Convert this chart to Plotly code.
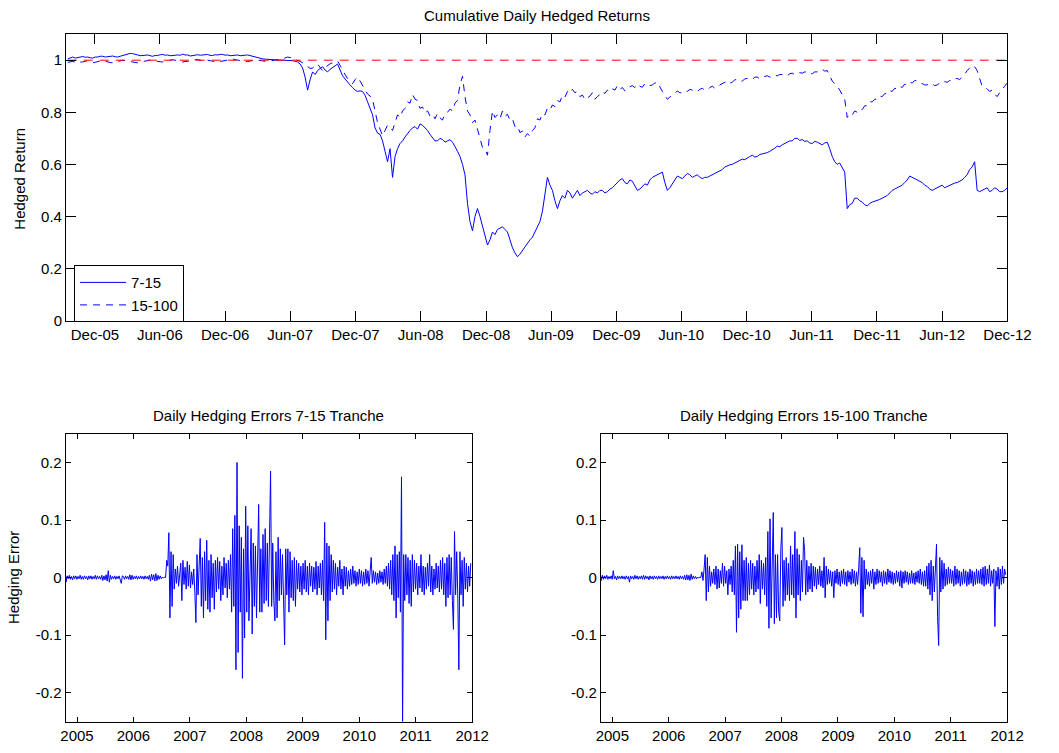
import pandas as pd
import plotly.graph_objects as go

# ---------------- cumulative hedged returns (weekly closes) ----------------
ret_start = "2005-09-16"
ret_7_15 = [
    1.005, 1.010, 1.012, 1.008, 1.010, 1.013, 1.014, 1.011, 1.012, 1.009,
    1.008, 1.012, 1.012, 1.015, 1.015, 1.012, 1.013, 1.016, 1.016, 1.013,
    1.012, 1.015, 1.018, 1.020, 1.022, 1.026, 1.025, 1.021, 1.020, 1.017,
    1.018, 1.020, 1.020, 1.017, 1.015, 1.018, 1.018, 1.021, 1.022, 1.019,
    1.020, 1.017, 1.018, 1.021, 1.020, 1.019, 1.023, 1.020, 1.020, 1.016,
    1.018, 1.021, 1.021, 1.019, 1.020, 1.022, 1.022, 1.018, 1.018, 1.021,
    1.020, 1.022, 1.022, 1.019, 1.020, 1.017, 1.018, 1.021, 1.020, 1.017,
    1.017, 1.019, 1.020, 1.017, 1.015, 1.012, 1.010, 1.007, 1.005, 1.004,
    1.003, 1.002, 1.002, 1.001, 1.001, 1.000, 1.000, 1.000, 1.000, 0.999,
    0.998, 0.996, 0.993, 0.985, 0.970, 0.935, 0.885, 0.925, 0.955, 0.945,
    0.960, 0.968, 0.975, 0.962, 0.955, 0.965, 0.970, 0.978, 0.985, 0.962,
    0.940, 0.928, 0.915, 0.905, 0.895, 0.885, 0.880, 0.882, 0.880, 0.865,
    0.840, 0.815, 0.790, 0.740, 0.720, 0.715, 0.690, 0.650, 0.610, 0.660,
    0.550, 0.630, 0.660, 0.680, 0.690, 0.705, 0.720, 0.730, 0.740, 0.745,
    0.735, 0.755, 0.750, 0.740, 0.730, 0.715, 0.700, 0.690, 0.690, 0.700,
    0.695, 0.685, 0.690, 0.695, 0.685, 0.670, 0.650, 0.630, 0.600, 0.560,
    0.450, 0.380, 0.345, 0.400, 0.430, 0.400, 0.360, 0.320, 0.290, 0.310,
    0.340, 0.330, 0.350, 0.355, 0.360, 0.350, 0.340, 0.310, 0.280, 0.260,
    0.245, 0.255, 0.270, 0.285, 0.300, 0.310, 0.320, 0.340, 0.360, 0.380,
    0.420, 0.480, 0.550, 0.520, 0.500, 0.460, 0.430, 0.460, 0.480, 0.470,
    0.500, 0.490, 0.470, 0.485, 0.500, 0.480, 0.490, 0.495, 0.500, 0.490,
    0.485, 0.495, 0.490, 0.500, 0.500, 0.490, 0.495, 0.505, 0.510, 0.520,
    0.530, 0.540, 0.545, 0.530, 0.525, 0.540, 0.535, 0.515, 0.500, 0.505,
    0.515, 0.525, 0.520, 0.540, 0.550, 0.555, 0.560, 0.565, 0.570, 0.530,
    0.500, 0.510, 0.525, 0.545, 0.555, 0.550, 0.545, 0.555, 0.565, 0.560,
    0.550, 0.555, 0.560, 0.550, 0.545, 0.550, 0.550, 0.555, 0.560, 0.565,
    0.570, 0.575, 0.580, 0.590, 0.595, 0.598, 0.600, 0.605, 0.610, 0.615,
    0.620, 0.618, 0.625, 0.630, 0.635, 0.628, 0.630, 0.638, 0.640, 0.642,
    0.645, 0.650, 0.655, 0.662, 0.670, 0.668, 0.675, 0.680, 0.685, 0.690,
    0.690, 0.700, 0.700, 0.692, 0.695, 0.688, 0.690, 0.682, 0.680, 0.688,
    0.685, 0.680, 0.675, 0.682, 0.685, 0.660, 0.630, 0.610, 0.600, 0.605,
    0.590, 0.570, 0.430, 0.445, 0.450, 0.470, 0.470, 0.460, 0.455, 0.445,
    0.440, 0.450, 0.455, 0.458, 0.460, 0.465, 0.470, 0.475, 0.480, 0.490,
    0.500, 0.505, 0.510, 0.515, 0.520, 0.530, 0.540, 0.555, 0.550, 0.545,
    0.540, 0.535, 0.530, 0.520, 0.515, 0.505, 0.500, 0.505, 0.510, 0.515,
    0.520, 0.510, 0.515, 0.520, 0.525, 0.528, 0.530, 0.535, 0.540, 0.550,
    0.560, 0.580, 0.590, 0.610, 0.500, 0.495, 0.500, 0.505, 0.510, 0.495,
    0.500, 0.510, 0.505, 0.495, 0.495, 0.500, 0.510,
]
ret_15_100 = [
    0.992, 0.994, 0.995, 0.992, 0.990, 0.993, 0.993, 0.996, 0.997, 0.993,
    0.990, 0.992, 0.995, 0.997, 0.998, 0.995, 0.993, 0.991, 0.990, 0.993,
    0.995, 0.998, 1.000, 0.998, 0.997, 0.995, 0.993, 0.991, 0.990, 0.993,
    0.995, 0.997, 0.998, 1.000, 1.000, 0.997, 0.995, 0.994, 0.993, 0.996,
    0.997, 1.000, 1.002, 1.000, 0.998, 0.995, 0.993, 0.995, 0.995, 0.998,
    1.000, 1.002, 1.003, 1.000, 0.998, 0.999, 1.000, 0.998, 0.996, 0.994,
    0.993, 0.995, 0.997, 0.999, 1.000, 1.002, 1.004, 1.002, 1.000, 0.998,
    0.997, 0.995, 0.995, 0.997, 0.998, 1.000, 1.000, 0.998, 0.997, 0.996,
    0.996, 0.997, 0.998, 1.000, 1.000, 1.003, 1.005, 1.010, 1.012, 1.010,
    1.008, 1.003, 1.000, 0.995, 0.990, 0.982, 0.975, 0.968, 0.970, 0.978,
    0.985, 0.972, 0.960, 0.972, 0.980, 0.986, 0.990, 0.995, 0.997, 0.980,
    0.960, 0.945, 0.930, 0.920, 0.910, 0.925, 0.935, 0.920, 0.900, 0.885,
    0.870, 0.862, 0.850, 0.800, 0.760, 0.735, 0.710, 0.730, 0.750, 0.740,
    0.730, 0.760, 0.790, 0.780, 0.805, 0.815, 0.840, 0.835, 0.868, 0.850,
    0.845, 0.815, 0.820, 0.798, 0.805, 0.785, 0.792, 0.775, 0.795, 0.778,
    0.770, 0.795, 0.800, 0.812, 0.805, 0.835, 0.845, 0.905, 0.938, 0.860,
    0.805, 0.790, 0.760, 0.770, 0.735, 0.705, 0.665, 0.660, 0.635, 0.730,
    0.805, 0.780, 0.790, 0.775, 0.805, 0.785, 0.792, 0.770, 0.775, 0.745,
    0.748, 0.722, 0.728, 0.705, 0.718, 0.708, 0.730, 0.740, 0.775, 0.770,
    0.795, 0.790, 0.815, 0.808, 0.828, 0.822, 0.845, 0.840, 0.865, 0.858,
    0.880, 0.872, 0.888, 0.875, 0.880, 0.860, 0.866, 0.848, 0.855, 0.862,
    0.875, 0.850, 0.860, 0.868, 0.880, 0.872, 0.885, 0.878, 0.890, 0.885,
    0.902, 0.888, 0.895, 0.882, 0.890, 0.898, 0.902, 0.895, 0.908, 0.900,
    0.896, 0.910, 0.910, 0.902, 0.905, 0.912, 0.915, 0.895, 0.880, 0.865,
    0.850, 0.858, 0.868, 0.872, 0.882, 0.875, 0.875, 0.882, 0.880, 0.888,
    0.885, 0.878, 0.880, 0.888, 0.892, 0.885, 0.885, 0.895, 0.900, 0.892,
    0.895, 0.905, 0.910, 0.918, 0.920, 0.912, 0.915, 0.925, 0.925, 0.918,
    0.920, 0.928, 0.930, 0.925, 0.925, 0.935, 0.935, 0.928, 0.930, 0.938,
    0.940, 0.935, 0.935, 0.942, 0.940, 0.945, 0.945, 0.938, 0.940, 0.948,
    0.950, 0.945, 0.945, 0.952, 0.950, 0.955, 0.955, 0.948, 0.948, 0.955,
    0.955, 0.962, 0.965, 0.958, 0.960, 0.940, 0.920, 0.910, 0.900, 0.885,
    0.870, 0.850, 0.780, 0.795, 0.790, 0.805, 0.800, 0.812, 0.810, 0.825,
    0.825, 0.840, 0.840, 0.850, 0.850, 0.862, 0.860, 0.872, 0.870, 0.882,
    0.880, 0.892, 0.890, 0.900, 0.895, 0.908, 0.905, 0.915, 0.912, 0.922,
    0.920, 0.912, 0.910, 0.905, 0.905, 0.912, 0.910, 0.902, 0.905, 0.912,
    0.910, 0.918, 0.915, 0.922, 0.920, 0.928, 0.930, 0.925, 0.935, 0.945,
    0.960, 0.970, 0.980, 0.975, 0.960, 0.930, 0.900, 0.895, 0.890, 0.880,
    0.885, 0.870, 0.860, 0.875, 0.890, 0.900, 0.912,
]
par_level = 1.0

# ---------------- daily hedging errors (weekly) ----------------
err_calm_start = "2004-10-15"
err_busy_start = "2006-08-04"

err_7_15_calm = [
    0.004, -0.008, 0.003, -0.002, 0.004, -0.003, 0.002, -0.004, 0.003, -0.002,
    0.003, -0.003, 0.002, -0.002, 0.004, -0.003, 0.002, -0.003, 0.003, -0.002,
    0.002, -0.004, 0.003, -0.002, 0.003, -0.003, 0.002, -0.002, 0.004, -0.003,
    0.003, -0.002, 0.002, -0.003, 0.004, -0.005, 0.003, -0.004, 0.005, -0.006,
    0.012, -0.008, 0.004, -0.003, 0.002, -0.002, 0.003, -0.003, 0.002, -0.002,
    0.003, -0.004, -0.010, 0.003, 0.002, -0.003, 0.003, -0.002, 0.002, -0.003,
    0.005, -0.004, 0.004, -0.003, 0.002, -0.002, 0.003, -0.003, 0.002, -0.002,
    0.003, -0.002, 0.002, -0.003, 0.003, -0.002, 0.002, -0.003, 0.004, -0.006,
    0.006, -0.004, 0.005, -0.006, 0.007, -0.005, 0.004, -0.003, 0.003, -0.002,
    0.001, -0.001, 0.001, 0.000,
]
err_7_15_busy = [
    0.030, 0.020, 0.078, -0.070, 0.045, -0.050, 0.040, -0.020, 0.015, -0.010,
    0.020, -0.015, 0.012, 0.025, -0.040, 0.030, -0.012, 0.018, -0.020, 0.028,
    -0.015, 0.022, -0.018, 0.010, -0.012, 0.015, -0.025, -0.078, 0.040, -0.030,
    0.020, 0.068, -0.050, 0.035, -0.070, 0.045, -0.040, 0.065, -0.055, 0.030,
    -0.060, 0.040, -0.035, 0.025, -0.055, 0.030, -0.025, 0.035, -0.020, 0.028,
    -0.040, 0.020, -0.030, 0.035, -0.018, 0.025, -0.035, 0.030, -0.020, 0.040,
    -0.060, 0.085, -0.050, 0.108, -0.160, 0.200, -0.130, 0.090, -0.060, 0.070,
    -0.175, 0.050, -0.105, 0.124, -0.060, 0.090, -0.075, 0.040, 0.085, -0.098,
    0.060, -0.050, 0.055, -0.070, 0.045, 0.127, -0.060, 0.050, -0.060, 0.075,
    -0.045, 0.085, -0.040, 0.060, -0.050, 0.045, 0.185, -0.050, 0.060, -0.040,
    -0.075, 0.045, -0.070, 0.070, -0.040, 0.050, -0.030, 0.040, -0.050, -0.117,
    0.050, -0.030, 0.050, -0.060, 0.045, -0.035, 0.030, -0.040, 0.035, -0.050,
    0.030, -0.020, 0.025, -0.025, 0.020, -0.030, 0.025, -0.020, 0.030, -0.025,
    0.020, -0.030, 0.025, -0.015, 0.020, -0.025, 0.018, -0.020, 0.028, -0.030,
    0.020, -0.018, 0.025, -0.030, 0.030, -0.040, 0.096, -0.108, 0.060, -0.075,
    0.055, -0.040, 0.040, -0.025, 0.030, -0.020, 0.025, -0.030, 0.018, -0.015,
    0.030, -0.020, 0.015, -0.030, 0.020, -0.015, 0.018, -0.020, 0.012, -0.015,
    0.015, -0.012, 0.020, -0.010, 0.012, -0.015, 0.010, -0.012, 0.015, -0.010,
    0.012, -0.015, 0.010, -0.012, 0.015, -0.010, 0.012, -0.015, 0.010, 0.035,
    -0.010, 0.012, -0.008, 0.010, -0.012, 0.008, -0.010, 0.012, -0.008, 0.010,
    -0.012, 0.015, -0.010, 0.020, -0.015, 0.025, -0.020, 0.030, -0.030, 0.040,
    -0.040, 0.055, -0.070, 0.040, -0.035, 0.045, -0.060, 0.175, -0.255, 0.040,
    -0.040, 0.040, -0.030, 0.035, -0.045, 0.030, -0.050, 0.040, -0.025, 0.030,
    -0.020, 0.025, -0.030, 0.020, -0.018, 0.040, -0.025, 0.020, -0.030, 0.018,
    -0.020, 0.025, -0.015, 0.040, -0.025, 0.020, -0.030, 0.015, -0.020, 0.025,
    -0.018, 0.020, -0.025, 0.030, -0.020, 0.035, -0.030, 0.025, -0.050, 0.035,
    -0.035, 0.040, -0.030, 0.035, -0.040, -0.090, 0.080, -0.030, 0.045, -0.030,
    -0.160, 0.045, -0.030, 0.030, -0.050, 0.035, -0.020, 0.025, -0.025, 0.020,
    -0.015, 0.025,
]

err_15_100_calm = [
    0.008, -0.005, 0.004, -0.003, 0.003, -0.002, 0.004, -0.003, 0.002, -0.002,
    0.003, -0.003, 0.012, -0.002, 0.002, -0.004, 0.003, -0.002, 0.002, -0.002,
    0.003, -0.002, 0.002, -0.003, 0.003, -0.002, 0.002, -0.008, 0.003, -0.002,
    0.002, -0.003, 0.004, -0.002, 0.003, -0.003, 0.002, -0.002, 0.003, -0.003,
    0.004, -0.003, 0.003, -0.002, 0.002, -0.004, 0.003, -0.002, 0.002, -0.003,
    0.003, -0.002, 0.002, -0.003, 0.003, -0.002, 0.002, -0.002, 0.003, -0.003,
    0.002, -0.002, 0.003, -0.002, 0.002, -0.003, 0.003, -0.002, 0.002, -0.002,
    0.003, -0.002, 0.002, -0.003, 0.003, -0.002, 0.002, -0.003, 0.004, -0.004,
    0.005, -0.004, 0.004, -0.005, 0.006, -0.003, 0.003, -0.002, 0.002, -0.002,
    0.001, -0.001, 0.001, 0.000,
]
err_15_100_busy = [
    0.010, -0.005, 0.015, 0.040, -0.040, 0.035, -0.025, 0.020, -0.015, 0.010,
    -0.010, 0.015, -0.012, 0.020, -0.020, 0.015, -0.018, 0.012, -0.010, 0.025,
    -0.015, 0.020, -0.010, 0.012, -0.030, 0.015, -0.012, 0.020, -0.025, 0.030,
    -0.030, 0.055, -0.095, 0.058, -0.070, 0.045, -0.055, 0.057, -0.040, 0.030,
    -0.040, 0.035, -0.040, 0.025, -0.030, 0.030, -0.020, 0.025, -0.030, 0.020,
    -0.025, 0.030, -0.020, 0.040, -0.045, 0.030, -0.020, 0.025, -0.030, 0.035,
    -0.050, 0.080, -0.088, 0.102, -0.070, 0.060, 0.113, -0.080, 0.040, -0.070,
    0.040, -0.060, -0.075, 0.050, 0.087, -0.050, 0.030, -0.040, 0.035, -0.030,
    0.025, -0.040, 0.055, -0.030, 0.040, -0.035, 0.080, -0.070, 0.050, -0.030,
    0.040, -0.040, 0.030, -0.025, 0.070, 0.047, -0.030, 0.030, -0.025, 0.020,
    -0.020, 0.025, -0.025, 0.020, -0.015, 0.018, -0.020, 0.015, -0.012, 0.020,
    -0.015, 0.012, -0.018, 0.035, -0.035, 0.020, -0.012, 0.015, -0.010, 0.012,
    -0.015, 0.010, -0.035, 0.012, -0.010, 0.015, -0.012, 0.010, -0.015, 0.012,
    -0.010, 0.015, -0.012, 0.010, -0.015, 0.012, -0.008, 0.010, -0.012, 0.015,
    -0.010, 0.012, -0.015, 0.010, -0.012, 0.015, 0.052, -0.062, 0.035, -0.068,
    0.030, -0.020, 0.015, -0.012, 0.010, -0.015, 0.012, -0.010, 0.015, -0.020,
    0.010, -0.012, 0.015, -0.010, 0.012, -0.008, 0.010, -0.015, 0.012, -0.010,
    0.010, -0.012, 0.015, -0.008, 0.012, -0.010, 0.010, -0.012, 0.008, -0.010,
    0.012, -0.008, 0.010, -0.015, 0.012, -0.018, 0.010, -0.010, 0.012, -0.008,
    0.010, -0.012, 0.008, -0.010, 0.012, -0.010, 0.008, -0.012, 0.010, -0.008,
    0.012, -0.010, 0.015, -0.012, 0.010, -0.015, 0.012, -0.015, 0.020, -0.020,
    0.025, -0.030, 0.030, -0.040, 0.020, -0.025, 0.030, 0.058, -0.068, -0.118,
    0.035, -0.025, 0.030, -0.020, 0.025, -0.015, 0.015, -0.012, 0.018, -0.010,
    0.015, -0.010, 0.012, -0.015, 0.020, -0.012, 0.015, -0.010, 0.012, -0.015,
    0.010, -0.012, 0.015, -0.010, 0.012, -0.015, 0.010, -0.012, 0.015, -0.010,
    0.012, -0.015, 0.010, -0.012, 0.015, -0.010, 0.012, -0.010, 0.015, -0.012,
    0.018, -0.015, 0.020, -0.012, 0.015, -0.010, 0.022, -0.015, 0.012, -0.010,
    0.015, -0.085, 0.012, -0.015, 0.018, -0.020, 0.015, -0.012, 0.020, -0.010,
    0.015, 0.005,
]

# ---------------- axis ticks ----------------
month_ticks = ["2005-12-01", "2006-06-01", "2006-12-01", "2007-06-01", "2007-12-01",
               "2008-06-01", "2008-12-01", "2009-06-01", "2009-12-01", "2010-06-01",
               "2010-12-01", "2011-06-01", "2011-12-01", "2012-06-01", "2012-12-01"]
month_labels = ["Dec-05", "Jun-06", "Dec-06", "Jun-07", "Dec-07", "Jun-08", "Dec-08",
                "Jun-09", "Dec-09", "Jun-10", "Dec-10", "Jun-11", "Dec-11", "Jun-12",
                "Dec-12"]
year_ticks = ["2005-01-01", "2006-01-01", "2007-01-01", "2008-01-01",
              "2009-01-01", "2010-01-01", "2011-01-01", "2012-01-01"]
year_labels = ["2005", "2006", "2007", "2008", "2009", "2010", "2011", "2012"]
ret_ticks = [0, 0.2, 0.4, 0.6, 0.8, 1]
ret_labels = ["0", "0.2", "0.4", "0.6", "0.8", "1"]
err_ticks = [-0.2, -0.1, 0, 0.1, 0.2]
err_labels = ["-0.2", "-0.1", "0", "0.1", "0.2"]

# ---------------- figure ----------------
W, H = 1059, 753
FONT = "Liberation Sans, Arial, Helvetica, sans-serif"
FS = 15
BLUE = "#0000ff"
RED = "#ff0000"

ret_dates = pd.date_range(ret_start, periods=len(ret_7_15), freq="7D")
ret_dates_b = pd.date_range(ret_start, periods=len(ret_15_100), freq="7D")


def err_dates(calm, busy):
    return pd.date_range(err_calm_start, periods=len(calm), freq="7D").append(
        pd.date_range(err_busy_start, periods=len(busy), freq="7D"))


fig = go.Figure()
fig.add_trace(go.Scatter(x=ret_dates, y=ret_7_15, mode="lines", name="7-15",
                         line=dict(color=BLUE, width=1), xaxis="x", yaxis="y"))
fig.add_trace(go.Scatter(x=ret_dates_b, y=ret_15_100, mode="lines", name="15-100",
                         line=dict(color=BLUE, width=1, dash="7px,6px"),
                         xaxis="x", yaxis="y"))
fig.add_trace(go.Scatter(x=[ret_dates[0], ret_dates[-1]], y=[par_level, par_level],
                         mode="lines", showlegend=False,
                         line=dict(color=RED, width=1, dash="9px,7px"),
                         xaxis="x", yaxis="y"))
fig.add_trace(go.Scatter(x=err_dates(err_7_15_calm, err_7_15_busy),
                         y=err_7_15_calm + err_7_15_busy, mode="lines",
                         showlegend=False, line=dict(color=BLUE, width=1),
                         xaxis="x2", yaxis="y2"))
fig.add_trace(go.Scatter(x=err_dates(err_15_100_calm, err_15_100_busy),
                         y=err_15_100_calm + err_15_100_busy, mode="lines",
                         showlegend=False, line=dict(color=BLUE, width=1),
                         xaxis="x3", yaxis="y3"))


def px_x(a, b):
    return [a / W, b / W]


def px_y(top, bottom):
    return [1 - bottom / H, 1 - top / H]


def axis_style(ticklen):
    return dict(showline=True, linecolor="black", linewidth=1, mirror="ticks",
                ticks="inside", ticklen=ticklen, tickcolor="black", tickwidth=1,
                showgrid=False, zeroline=False,
                tickfont=dict(family=FONT, size=FS, color="black"))


fig.update_layout(
    width=W, height=H, margin=dict(l=0, r=0, t=0, b=0),
    paper_bgcolor="white", plot_bgcolor="white",
    font=dict(family=FONT, size=FS, color="black"),
    xaxis=dict(domain=px_x(62.7, 1030.7), anchor="y", type="date",
               range=["2005-09-11", "2012-12-01"], tickmode="array",
               tickvals=month_ticks, ticktext=month_labels, **axis_style(10)),
    yaxis=dict(domain=px_y(34.5, 324), anchor="x", range=[0, 1.1],
               tickmode="array", tickvals=ret_ticks, ticktext=ret_labels,
               **axis_style(10)),
    xaxis2=dict(domain=px_x(62.3, 480.3), anchor="y2", type="date",
                range=["2004-10-19", "2012-01-01"], tickmode="array",
                tickvals=year_ticks, ticktext=year_labels, **axis_style(5)),
    yaxis2=dict(domain=px_y(438.3, 729.3), anchor="x2", range=[-0.25, 0.25],
                tickmode="array", tickvals=err_ticks, ticktext=err_labels,
                **axis_style(5)),
    xaxis3=dict(domain=px_x(612.7, 1030.3), anchor="y3", type="date",
                range=["2004-10-19", "2012-01-01"], tickmode="array",
                tickvals=year_ticks, ticktext=year_labels, **axis_style(5)),
    yaxis3=dict(domain=px_y(438.3, 729.3), anchor="x3", range=[-0.25, 0.25],
                tickmode="array", tickvals=err_ticks, ticktext=err_labels,
                **axis_style(5)),
    legend=dict(x=71 / W, y=1 - 268 / H, xanchor="left", yanchor="top",
                bgcolor="white", bordercolor="black", borderwidth=1,
                font=dict(family=FONT, size=FS, color="black"),
                itemwidth=46, tracegroupgap=0),
    showlegend=True,
)


def label(text, x, y, angle=0):
    fig.add_annotation(text=text, x=x / W, y=1 - y / H, xref="paper", yref="paper",
                       xanchor="center", yanchor="middle", showarrow=False,
                       textangle=angle, font=dict(family=FONT, size=FS, color="black"))


label("Cumulative Daily Hedged Returns", 546.7, 16)
label("Daily Hedging Errors 7-15 Tranche", 271.3, 420)
label("Daily Hedging Errors 15-100 Tranche", 821.5, 420)
label("Hedged Return", 14, 181, -90)
label("Hedging Error", 9.5, 584, -90)

fig.write_html("out.html")
